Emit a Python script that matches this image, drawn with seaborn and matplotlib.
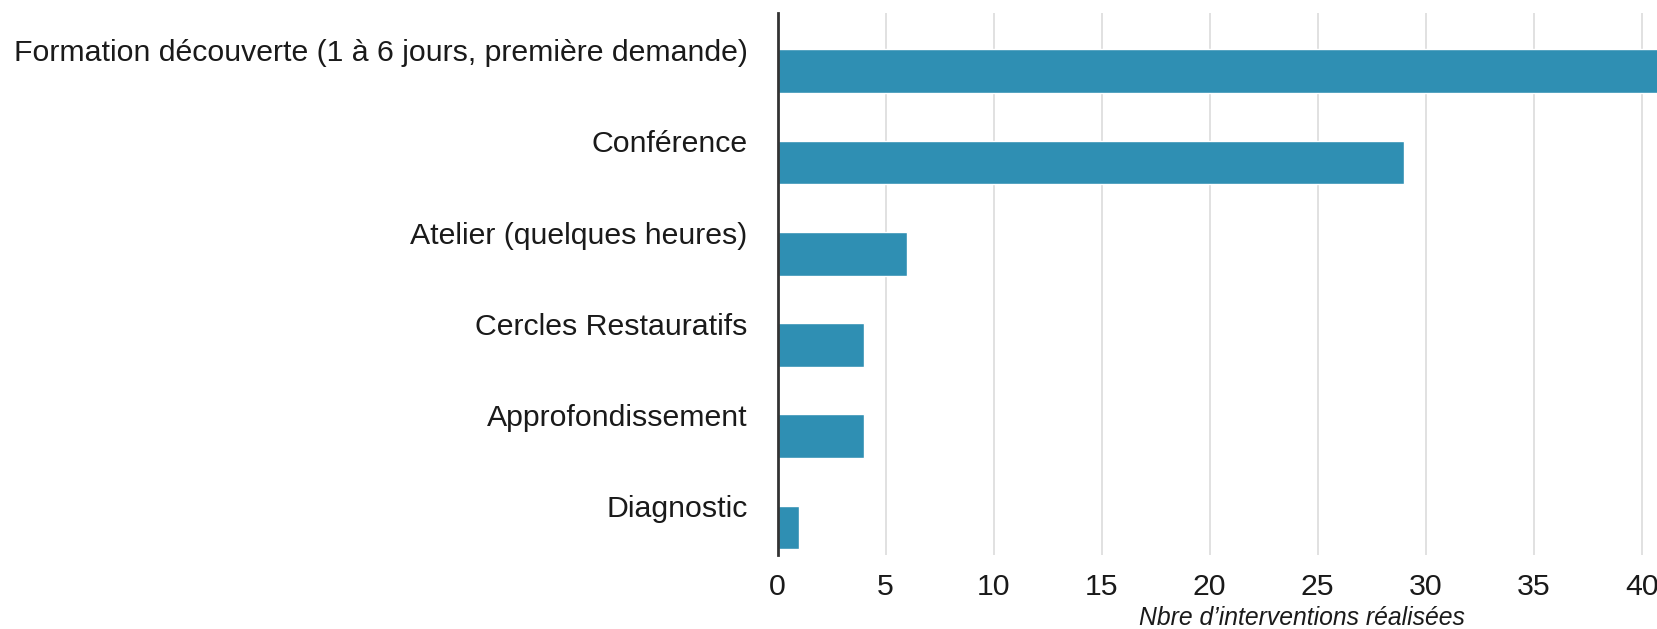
import matplotlib
matplotlib.use("Agg")
import matplotlib.pyplot as plt
import matplotlib.transforms as mtransforms
import seaborn as sns
import pandas as pd

# Données
types = ["Formation découverte (1 à 6 jours, première demande)", "Conférence",
         "Atelier (quelques heures)", "Cercles Restauratifs", "Approfondissement", "Diagnostic"]
nombres = [41, 29, 6, 4, 4, 1]

df = pd.DataFrame({"type": types, "nombre": nombres})

sns.set_style("white")
plt.rcParams['font.family'] = ['Liberation Sans', 'DejaVu Sans']

fig = plt.figure(figsize=(16.58, 6.29), dpi=100)
ax = fig.add_axes([0.469, 0.118, 0.531, 0.861])

sns.barplot(x="nombre", y="type", data=df, color="#2F8FB3", saturation=1,
            width=0.48, ax=ax, zorder=3)

ax.set_xlim(0, 40.75)
ax.set_ylim(5.3, -0.635)
ax.set_xticks(range(0, 45, 5))
ax.xaxis.grid(True, color="#dcdcdc", linewidth=1.2, zorder=0)
ax.set_axisbelow(True)

for s in ["top", "right", "bottom"]:
    ax.spines[s].set_visible(False)
ax.spines["left"].set_color("#333333")
ax.spines["left"].set_linewidth(2)
ax.spines["left"].set_zorder(4)

ax.tick_params(axis="both", length=0, labelsize=21.8, colors="#1a1a1a")
ax.tick_params(axis="y", pad=21.5)
ax.tick_params(axis="x", pad=13)

# etiquettes un peu au-dessus des barres
offset = mtransforms.ScaledTranslation(0, 0.21, fig.dpi_scale_trans)
for lbl in ax.get_yticklabels():
    lbl.set_transform(lbl.get_transform() + offset)

ax.set_ylabel("")
ax.set_xlabel("Nbre d’interventions réalisées", fontsize=17.8, style="italic",
              color="#1a1a1a")
ax.xaxis.set_label_coords(0.595, -0.095)

fig.savefig("out.png", dpi=100)
